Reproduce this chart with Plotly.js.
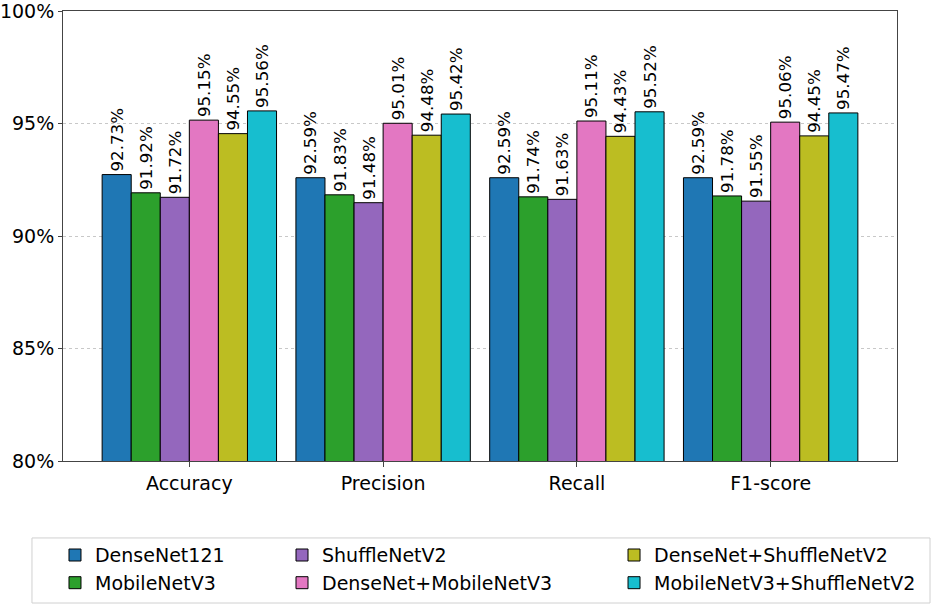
<!DOCTYPE html>
<html>
<head>
<meta charset="utf-8">
<script src="https://cdn.plot.ly/plotly-3.0.1.min.js"></script>
<style>html,body{margin:0;padding:0;background:#fff;}#chart{width:935px;height:608px;}</style>
</head>
<body>
<div id="chart"></div>
<script>
const metrics = ['Accuracy', 'Precision', 'Recall', 'F1-score'];
const models = ['DenseNet121', 'MobileNetV3', 'ShuffleNetV2', 'DenseNet+MobileNetV3', 'DenseNet+ShuffleNetV2', 'MobileNetV3+ShuffleNetV2'];
const denseNet121 = [92.73, 92.59, 92.59, 92.59];
const mobileNetV3 = [91.92, 91.83, 91.74, 91.78];
const shuffleNetV2 = [91.72, 91.48, 91.63, 91.55];
const denseMobile = [95.15, 95.01, 95.11, 95.06];
const denseShuffle = [94.55, 94.48, 94.43, 94.45];
const mobileShuffle = [95.56, 95.42, 95.52, 95.47];
const yTicks = [80, 85, 90, 95, 100];

const series = [denseNet121, mobileNetV3, shuffleNetV2, denseMobile, denseShuffle, mobileShuffle];
const colors = ['#1f77b4', '#2ca02c', '#9467bd', '#e377c2', '#bcbd22', '#17becf'];
const legendIds = ['legend', 'legend', 'legend2', 'legend2', 'legend3', 'legend3'];
const font = 'DejaVu Sans, sans-serif';

const traces = series.map((vals, i) => ({
  type: 'bar',
  name: models[i],
  x: metrics,
  y: vals,
  marker: {color: colors[i], line: {color: '#000', width: 1}},
  texttemplate: '%{y:.2f}%',
  textposition: 'outside',
  textangle: -90,
  constraintext: 'none',
  cliponaxis: false,
  textfont: {family: font, size: 16.7, color: '#000'},
  legend: legendIds[i],
  hoverinfo: 'skip'
}));

const legBase = {
  orientation: 'v', xanchor: 'left', yanchor: 'top',
  bgcolor: 'rgba(0,0,0,0)', borderwidth: 0,
  font: {family: font, size: 19, color: '#000'},
  tracegroupgap: 0
};

const layout = {
  width: 935, height: 608,
  margin: {l: 63, r: 38, t: 11, b: 147, autoexpand: false},
  paper_bgcolor: '#fff', plot_bgcolor: '#fff',
  barmode: 'group', bargap: 0.1, bargroupgap: 0,
  font: {family: font, size: 19, color: '#000'},
  xaxis: {
    type: 'category', range: [-0.652, 3.652],
    showline: true, linecolor: '#444', linewidth: 1, mirror: true,
    ticks: 'outside', ticklen: 5, tickcolor: '#444',
    showgrid: false, tickfont: {family: font, size: 19, color: '#000'}
  },
  yaxis: {
    range: [80, 100], tickvals: yTicks, ticktext: yTicks.map(v => v + '%'),
    showline: true, linecolor: '#444', linewidth: 1, mirror: true,
    ticks: 'outside', ticklen: 4, tickcolor: '#444',
    ticklabeloverflow: 'allow',
    showgrid: true, gridcolor: '#c8c8c8', griddash: 'dot', gridwidth: 1,
    zeroline: false, tickfont: {family: font, size: 19, color: '#000'}
  },
  legend: Object.assign({}, legBase, {x: -0.0096, y: -0.167}),
  legend2: Object.assign({}, legBase, {x: 0.2626, y: -0.167}),
  legend3: Object.assign({}, legBase, {x: 0.6607, y: -0.167}),
  showlegend: true,
  shapes: [{
    type: 'rect', xref: 'paper', yref: 'paper',
    x0: -0.0372, x1: 1.0396, y0: -0.3156, y1: -0.171,
    line: {color: '#d0d0d0', width: 1}, fillcolor: 'rgba(0,0,0,0)', layer: 'below'
  }]
};

Plotly.newPlot('chart', traces, layout, {displayModeBar: false, staticPlot: true});
</script>
</body>
</html>
